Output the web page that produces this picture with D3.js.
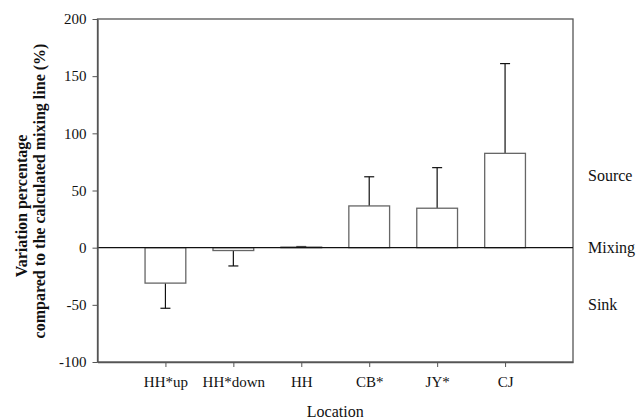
<!DOCTYPE html>
<html>
<head>
<meta charset="utf-8">
<script src="https://cdn.jsdelivr.net/npm/d3@7"></script>
<style>
  body { margin: 0; background: #fff; }
</style>
</head>
<body>
<svg id="chart"></svg>
<script>
// Data
const locations = ["HH*up", "HH*down", "HH", "CB*", "JY*", "CJ"];
const variation = [-31, -2.5, 0.5, 36.5, 34.5, 82.5];
const errorEnd = [-53, -16, 1, 62, 70, 161];
const yTicks = [-100, -50, 0, 50, 100, 150, 200];
const zoneLabels = ["Source", "Mixing", "Sink"];
const zoneValues = [63, 0, -50];

const font = "Liberation Serif";
const tickSize = 15;
const labelSize = 16;

// Dimensions
const margin = { top: 19, right: 64, bottom: 58, left: 97.5 };
const width = 637 - margin.left - margin.right;
const height = 420 - margin.top - margin.bottom;

const svg = d3.select("#chart")
  .attr("width", 637)
  .attr("height", 420)
  .attr("font-family", font)
  .append("g")
  .attr("transform", `translate(${margin.left},${margin.top})`);

// Scales
const x = d3.scalePoint()
  .domain(locations)
  .range([0, width])
  .padding(1);

const y = d3.scaleLinear()
  .domain([-100, 200])
  .range([height, 0]);

const barWidth = x.step() * 0.6;
const axisColor = "#555";

// Frame (top and right)
svg.append("rect")
  .attr("x", 0)
  .attr("y", 0)
  .attr("width", width)
  .attr("height", height)
  .attr("fill", "none")
  .attr("stroke", axisColor)
  .attr("stroke-width", 1.3);

// Error bars (drawn before bars so bars sit on top)
const errs = svg.selectAll(".err")
  .data(locations)
  .enter()
  .append("g")
  .attr("class", "err");

errs.append("line")
  .attr("x1", d => x(d))
  .attr("x2", d => x(d))
  .attr("y1", (d, i) => y(variation[i]))
  .attr("y2", (d, i) => y(errorEnd[i]))
  .attr("stroke", "#111")
  .attr("stroke-width", 1.2);

errs.append("line")
  .attr("x1", d => x(d) - 5)
  .attr("x2", d => x(d) + 5)
  .attr("y1", (d, i) => y(errorEnd[i]))
  .attr("y2", (d, i) => y(errorEnd[i]))
  .attr("stroke", "#111")
  .attr("stroke-width", 1.2);

// Bars
svg.selectAll(".bar")
  .data(locations)
  .enter()
  .append("rect")
  .attr("class", "bar")
  .attr("x", d => x(d) - barWidth / 2)
  .attr("width", barWidth)
  .attr("y", (d, i) => y(Math.max(0, variation[i])))
  .attr("height", (d, i) => Math.abs(y(variation[i]) - y(0)))
  .attr("fill", "#fff")
  .attr("stroke", "#666")
  .attr("stroke-width", 1.3);

// Zero (mixing) line
svg.append("line")
  .attr("x1", 0)
  .attr("x2", width)
  .attr("y1", y(0))
  .attr("y2", y(0))
  .attr("stroke", "#111")
  .attr("stroke-width", 1.2);

// Y axis
const yAxis = svg.append("g")
  .call(d3.axisLeft(y).tickValues(yTicks).tickFormat(d => String(d))
    .tickSize(5).tickSizeOuter(0).tickPadding(6));
yAxis.attr("font-family", font).attr("font-size", tickSize);
yAxis.select(".domain").attr("stroke", axisColor).attr("stroke-width", 1.3);
yAxis.selectAll(".tick line").attr("stroke", axisColor);
yAxis.selectAll(".tick text").attr("fill", "#111");

// X axis
const xAxis = svg.append("g")
  .attr("transform", `translate(0, ${height})`)
  .call(d3.axisBottom(x).tickSize(5).tickSizeOuter(0).tickPadding(9));
xAxis.attr("font-family", font).attr("font-size", tickSize);
xAxis.select(".domain").attr("stroke", axisColor).attr("stroke-width", 1.3);
xAxis.selectAll(".tick line").attr("stroke", axisColor);
xAxis.selectAll(".tick text").attr("fill", "#111");

// Zone labels on the right
svg.selectAll(".zone")
  .data(zoneLabels)
  .enter()
  .append("text")
  .attr("class", "zone")
  .attr("x", width + 15)
  .attr("y", (d, i) => y(zoneValues[i]))
  .attr("dy", "0.35em")
  .attr("font-size", labelSize)
  .attr("fill", "#111")
  .text(d => d);

// X-axis label
svg.append("text")
  .attr("x", width / 2)
  .attr("y", height + 55)
  .attr("text-anchor", "middle")
  .attr("font-size", labelSize)
  .attr("fill", "#111")
  .text("Location");

// Y-axis label (two lines, bold)
const yLabel = svg.append("text")
  .attr("transform", "rotate(-90)")
  .attr("text-anchor", "middle")
  .attr("font-size", 16)
  .attr("font-weight", "bold")
  .attr("fill", "#111");

yLabel.append("tspan")
  .attr("x", -(206 - margin.top))
  .attr("y", -margin.left + 27)
  .text("Variation percentage");

yLabel.append("tspan")
  .attr("x", -(191 - margin.top))
  .attr("y", -margin.left + 45)
  .text("compared to the calculated mixing line (%)");
</script>
</body>
</html>
